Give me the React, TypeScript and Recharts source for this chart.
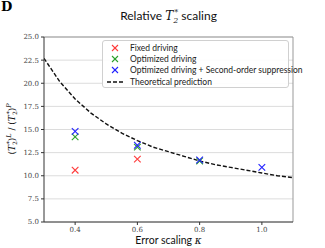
import React from 'react';
import { ComposedChart, Line, Scatter, XAxis, YAxis, CartesianGrid, ReferenceLine } from 'recharts';

// theoretical prediction
const curveK = [0.3, 0.35, 0.4, 0.45, 0.5, 0.55, 0.6, 0.65, 0.7, 0.75, 0.8, 0.85, 0.9, 0.95, 1.0, 1.05, 1.1];
const curveV = [22.7, 20.2, 18.3, 16.8, 15.6, 14.6, 13.8, 13.1, 12.6, 12.1, 11.6, 11.2, 10.9, 10.6, 10.3, 10.0, 9.8];

const fixedK = [0.4, 0.6];
const fixedV = [10.6, 11.8];
const optK = [0.4, 0.6, 0.8];
const optV = [14.2, 13.1, 11.6];
const secondK = [0.4, 0.6, 0.8, 1.0];
const secondV = [14.8, 13.3, 11.7, 10.9];

const xTicks = [0.4, 0.6, 0.8, 1.0];
const yTicks = [5, 7.5, 10, 12.5, 15, 17.5, 20, 22.5, 25];

const zip = (ks: number[], vs: number[]) => ks.map((k, i) => ({ k, v: vs[i] }));

const curve = zip(curveK, curveV);
const fixed = zip(fixedK, fixedV);
const opt = zip(optK, optV);
const second = zip(secondK, secondV);

const legendItems = [
  { label: 'Fixed driving', color: '#ff3b3b', kind: 'x' },
  { label: 'Optimized driving', color: '#2ca02c', kind: 'x' },
  { label: 'Optimized driving + Second-order suppression', color: '#2222ff', kind: 'x' },
  { label: 'Theoretical prediction', color: '#111', kind: 'line' },
];

const sans = 'Lato, "DejaVu Sans", sans-serif';
const serif = '"DejaVu Serif", "Liberation Serif", serif';

const cross = (color: string) => (props: any) => {
  const { cx, cy } = props;
  const s = 3.3;
  return (
    <g stroke={color} strokeWidth={1.1}>
      <line x1={cx - s} y1={cy - s} x2={cx + s} y2={cy + s} />
      <line x1={cx - s} y1={cy + s} x2={cx + s} y2={cy - s} />
    </g>
  );
};

const LegendBox = () => (
  <div
    style={{
      position: 'absolute',
      left: 102,
      top: 40,
      width: 187,
      height: 48,
      boxSizing: 'border-box',
      border: '1px solid #d0d0d0',
      borderRadius: 3,
      background: 'rgba(255,255,255,0.9)',
      padding: '1px 0 0 4px',
      fontFamily: sans,
      fontSize: 8.5,
      color: '#222',
    }}
  >
    {legendItems.map((it) => (
      <div key={it.label} style={{ display: 'flex', alignItems: 'center', height: 11.3 }}>
        <svg width={18} height={10} style={{ marginRight: 5, flexShrink: 0 }}>
          {it.kind === 'x' ? (
            <g stroke={it.color} strokeWidth={1.1}>
              <line x1={5} y1={2} x2={11} y2={8} />
              <line x1={5} y1={8} x2={11} y2={2} />
            </g>
          ) : (
            <line x1={0} y1={5} x2={18} y2={5} stroke={it.color} strokeWidth={1.4} strokeDasharray="4 2" />
          )}
        </svg>
        <span style={{ whiteSpace: 'nowrap' }}>{it.label}</span>
      </div>
    ))}
  </div>
);

export default function App() {
  return (
    <div style={{ position: 'absolute', left: 0, top: 0, width: 325, height: 248, background: '#fff' }}>
      <div style={{ position: 'absolute', left: 1, top: -1, fontFamily: serif, fontWeight: 'bold', fontSize: 13 }}>D</div>
      <div
        style={{
          position: 'absolute',
          left: 44,
          width: 249,
          top: 8,
          textAlign: 'center',
          fontFamily: sans,
          fontSize: 12,
          color: '#111',
        }}
      >
        Relative{' '}
        <span style={{ fontFamily: serif, fontStyle: 'italic' }}>
          T<sub style={{ fontSize: 8 }}>2</sub>
          <sup style={{ fontSize: 8, marginLeft: -4 }}>*</sup>
        </span>{' '}
        scaling
      </div>
      <ComposedChart width={325} height={248} margin={{ top: 37, right: 32, bottom: 0, left: 0 }}>
        <CartesianGrid vertical={false} stroke="#dcdcdc" />
        <XAxis
          type="number"
          dataKey="k"
          domain={[0.3, 1.1]}
          ticks={xTicks}
          tickFormatter={(v: number) => v.toFixed(1)}
          height={26}
          stroke="#333"
          tickSize={3}
          tick={{ fontFamily: serif, fontSize: 7, fill: '#444' }}
          allowDataOverflow
        />
        <YAxis
          type="number"
          dataKey="v"
          domain={[5, 25]}
          ticks={yTicks}
          tickFormatter={(v: number) => v.toFixed(1)}
          width={44}
          stroke="#333"
          tickSize={3}
          tick={{ fontFamily: serif, fontSize: 7, fill: '#444' }}
          allowDataOverflow
        />
        <ReferenceLine y={25} stroke="#999" />
        <ReferenceLine x={1.1} stroke="#999" />
        <Line
          data={curve}
          dataKey="v"
          stroke="#111"
          strokeWidth={1.4}
          strokeDasharray="4 2"
          dot={false}
          type="linear"
          isAnimationActive={false}
        />
        <Scatter data={fixed} fill="#ff3b3b" shape={cross('#ff3b3b')} isAnimationActive={false} />
        <Scatter data={opt} fill="#2ca02c" shape={cross('#2ca02c')} isAnimationActive={false} />
        <Scatter data={second} fill="#2222ff" shape={cross('#2222ff')} isAnimationActive={false} />
      </ComposedChart>
      <LegendBox />
      <div
        style={{
          position: 'absolute',
          left: 44,
          width: 249,
          top: 234,
          lineHeight: '12px',
          textAlign: 'center',
          fontFamily: sans,
          fontSize: 10.5,
          color: '#111',
        }}
      >
        Error scaling <span style={{ fontFamily: serif, fontStyle: 'italic' }}>κ</span>
      </div>
      <div
        style={{
          position: 'absolute',
          left: 12,
          top: 129,
          lineHeight: '12px',
          transform: 'translate(-50%, -50%) rotate(-90deg)',
          whiteSpace: 'nowrap',
          fontFamily: serif,
          fontSize: 9,
          color: '#111',
        }}
      >
        (<i>T</i>
        <sub style={{ fontSize: 6 }}>2</sub>
        <sup style={{ fontSize: 6, marginLeft: -3 }}>*</sup>)<sup style={{ fontSize: 6.5 }}><i>L</i></sup> / (<i>T</i>
        <sub style={{ fontSize: 6 }}>2</sub>
        <sup style={{ fontSize: 6, marginLeft: -3 }}>*</sup>)<sup style={{ fontSize: 6.5 }}><i>P</i></sup>
      </div>
    </div>
  );
}
